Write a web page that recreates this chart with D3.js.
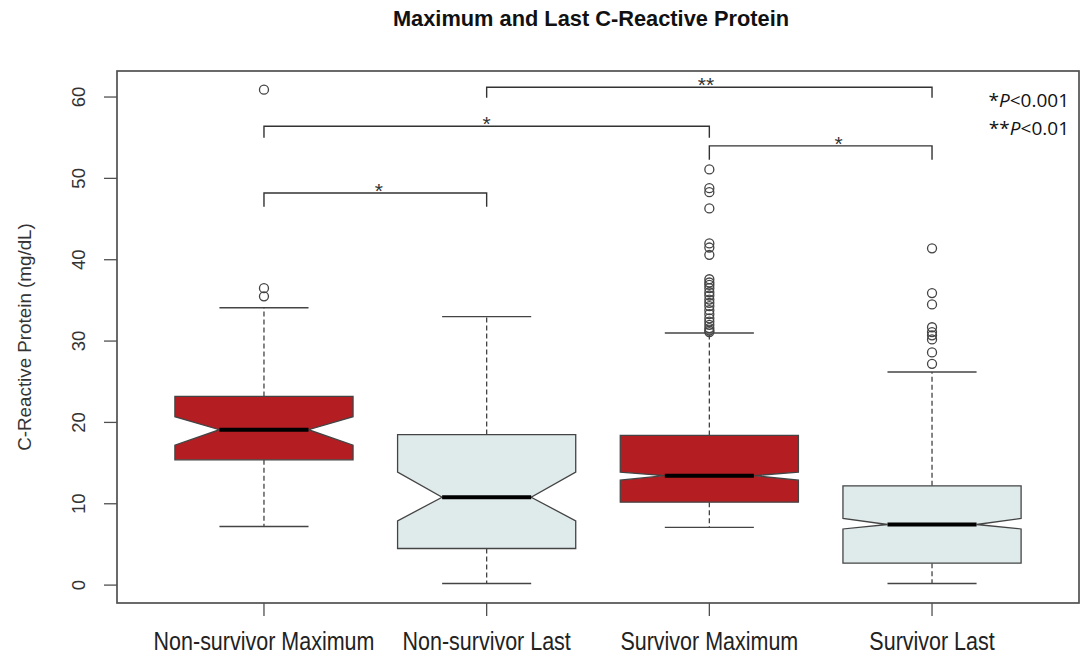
<!DOCTYPE html>
<html>
<head>
<meta charset="utf-8">
<script src="https://cdn.jsdelivr.net/npm/d3@7/dist/d3.min.js"></script>
<style>
  html, body { margin: 0; padding: 0; background: #fff; }
  svg { display: block; }
</style>
</head>
<body>
<svg id="chart" width="1086" height="661"></svg>
<script>
// ---------------- data ----------------
const categories = ["Non-survivor Maximum", "Non-survivor Last", "Survivor Maximum", "Survivor Last"];
const measure = ["Maximum", "Last", "Maximum", "Last"];
const lowerWhisker = [7.2, 0.2, 7.1, 0.2];
const q1 = [15.4, 4.5, 10.2, 2.7];
const median = [19.1, 10.8, 13.45, 7.45];
const q3 = [23.2, 18.5, 18.4, 12.2];
const upperWhisker = [34.1, 33.0, 31.0, 26.2];
const notchLow = [17.2, 7.9, 12.9, 6.9];
const notchHigh = [20.7, 13.9, 13.9, 8.2];
const outliers = [
  [60.9, 36.5, 35.5],
  [],
  [51.1, 48.8, 48.3, 46.3, 42.0, 41.5, 40.6, 37.6, 37.2, 36.9, 36.5, 36.0, 35.6, 35.1,
   34.7, 34.3, 33.8, 33.3, 32.8, 32.4, 32.0, 31.6, 31.3, 31.1],
  [41.4, 35.9, 34.5, 31.7, 31.1, 30.7, 30.2, 28.6, 27.2]
];
const yTicks = [0, 10, 20, 30, 40, 50, 60];
// significance brackets: from/to category index (1-based), bracket level, tick bottom, label position (category units)
const bracketFrom = [2, 1, 3, 1];
const bracketTo = [4, 3, 4, 2];
const bracketLevel = [61.2, 56.4, 54.0, 48.2];
const bracketDrop = [59.9, 55.0, 52.3, 46.5];
const bracketLabel = ["**", "*", "*", "*"];
const bracketLabelAt = [2.985, 2.0, 3.58, 1.516];
const pNotes = [["*", "P", "<0.001"], ["**", "P", "<0.01"]];
const titleText = "Maximum and Last C-Reactive Protein";
const yTitle = "C-Reactive Protein (mg/dL)";

// ---------------- layout ----------------
const svg = d3.select("#chart");
const plot = { left: 117, right: 1079, top: 71, bottom: 603 };
const fillColor = { Maximum: "#b41e23", Last: "#dfeaeb" };
const edge = "#444";
const sans = "'Liberation Sans', Arial, sans-serif";

const xIdx = d3.scaleLinear().domain([0.34, 4.66]).range([plot.left, plot.right]);
const x = i => xIdx(i + 1);
const y = d3.scaleLinear().domain([-2.2, 63.2]).range([plot.bottom, plot.top]);
const halfW = (xIdx(1.4) - xIdx(1)); // boxwex 0.8

// title
svg.append("text")
  .attr("x", 591).attr("y", 26)
  .attr("text-anchor", "middle")
  .style("font-family", sans)
  .style("font-weight", "bold").style("font-size", "21.8px")
  .attr("fill", "#111")
  .text(titleText);

// boxes
const g = svg.append("g");
categories.forEach((c, i) => {
  const cx = x(i), w = halfW;
  g.append("line").attr("x1", cx).attr("x2", cx)
    .attr("y1", y(q3[i])).attr("y2", y(upperWhisker[i]))
    .attr("stroke", edge).attr("stroke-width", 1.3).attr("stroke-dasharray", "5,3");
  g.append("line").attr("x1", cx).attr("x2", cx)
    .attr("y1", y(q1[i])).attr("y2", y(lowerWhisker[i]))
    .attr("stroke", edge).attr("stroke-width", 1.3).attr("stroke-dasharray", "5,3");
  [upperWhisker[i], lowerWhisker[i]].forEach(v => {
    g.append("line").attr("x1", cx - w / 2).attr("x2", cx + w / 2)
      .attr("y1", y(v)).attr("y2", y(v))
      .attr("stroke", edge).attr("stroke-width", 1.4);
  });
  const pts = [
    [cx - w, y(q3[i])], [cx + w, y(q3[i])], [cx + w, y(notchHigh[i])],
    [cx + w / 2, y(median[i])], [cx + w, y(notchLow[i])], [cx + w, y(q1[i])],
    [cx - w, y(q1[i])], [cx - w, y(notchLow[i])], [cx - w / 2, y(median[i])],
    [cx - w, y(notchHigh[i])]
  ];
  g.append("polygon")
    .attr("points", pts.map(p => p.join(",")).join(" "))
    .attr("fill", fillColor[measure[i]])
    .attr("stroke", edge).attr("stroke-width", 1.3).attr("stroke-linejoin", "miter");
  g.append("line").attr("x1", cx - w / 2).attr("x2", cx + w / 2)
    .attr("y1", y(median[i])).attr("y2", y(median[i]))
    .attr("stroke", "#000").attr("stroke-width", 4);
  g.selectAll(null).data(outliers[i]).enter().append("circle")
    .attr("cx", cx).attr("cy", d => y(d)).attr("r", 4.5)
    .attr("fill", "none").attr("stroke", "#444").attr("stroke-width", 1.3);
});

// frame
svg.append("rect")
  .attr("x", plot.left).attr("y", plot.top)
  .attr("width", plot.right - plot.left).attr("height", plot.bottom - plot.top)
  .attr("fill", "none").attr("stroke", "#505050").attr("stroke-width", 1.7);

// y axis
const yAxis = svg.append("g");
yTicks.forEach(t => {
  yAxis.append("line").attr("x1", plot.left - 13).attr("x2", plot.left)
    .attr("y1", y(t)).attr("y2", y(t)).attr("stroke", "#505050").attr("stroke-width", 1.3);
  yAxis.append("text")
    .attr("transform", `translate(85,${y(t)}) rotate(-90)`)
    .attr("text-anchor", "middle")
    .style("font-family", sans)
    .style("font-size", "18.5px").attr("fill", "#333")
    .text(t);
});
svg.append("text")
  .attr("transform", `translate(31,${(plot.top + plot.bottom) / 2}) rotate(-90)`)
  .attr("text-anchor", "middle")
  .style("font-family", sans)
  .style("font-size", "18.8px").attr("fill", "#333")
  .text(yTitle);

// x axis
categories.forEach((c, i) => {
  svg.append("line").attr("x1", x(i)).attr("x2", x(i))
    .attr("y1", plot.bottom).attr("y2", plot.bottom + 13)
    .attr("stroke", "#505050").attr("stroke-width", 1.3);
  svg.append("text")
    .attr("transform", `translate(${x(i)},650) scale(0.86,1)`)
    .attr("text-anchor", "middle")
    .style("font-family", sans)
    .style("font-size", "25px").attr("fill", "#222")
    .text(c);
});

// significance brackets
const bg = svg.append("g");
bracketFrom.forEach((f, k) => {
  const x1 = xIdx(f), x2 = xIdx(bracketTo[k]);
  const yl = y(bracketLevel[k]), yd = y(bracketDrop[k]);
  bg.append("path")
    .attr("d", `M${x1},${yd}V${yl}H${x2}V${yd}`)
    .attr("fill", "none").attr("stroke", "#333").attr("stroke-width", 1.4);
  bg.append("text")
    .attr("x", xIdx(bracketLabelAt[k])).attr("y", yl + 5)
    .attr("text-anchor", "middle")
    .style("font-family", sans)
    .style("font-size", "21px").attr("fill", "#333")
    .text(bracketLabel[k]);
});

// p-value notes
pNotes.forEach((n, k) => {
  const t = svg.append("text")
    .attr("x", 1069).attr("y", 107 + k * 28)
    .attr("text-anchor", "end")
    .style("font-family", "'Open Sans', 'Liberation Sans', sans-serif")
    .style("font-size", "19px").attr("fill", "#111");
  t.append("tspan").text(n[0]);
  t.append("tspan").style("font-style", "italic").text(n[1]);
  t.append("tspan").text(n[2]);
});
</script>
</body>
</html>
